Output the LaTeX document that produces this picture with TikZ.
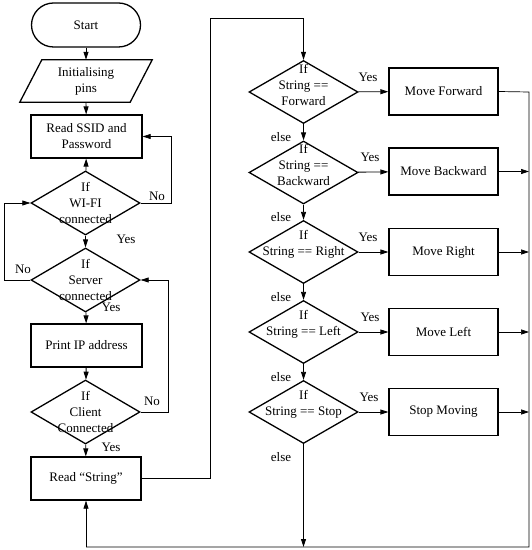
\documentclass[tikz,border=0pt]{standalone}
\usepackage{fontspec}
\setmainfont{Liberation Serif}
\usetikzlibrary{shapes.geometric,arrows.meta}
\begin{document}
\begin{tikzpicture}[x=1bp,y=-1bp,
  font=\fontsize{13bp}{16bp}\selectfont,
  shp/.style={draw=black,line width=1.3pt},
  boxn/.style={shp,rectangle,minimum width=111bp,minimum height=43bp,inner sep=0pt,align=center},
  dia/.style={shp,diamond,minimum width=109bp,minimum height=64bp,inner sep=0pt},
  txt/.style={align=center,inner sep=0pt},
  lbl/.style={inner sep=0pt},
  con/.style={line width=0.9pt},
  arr/.style={con,-{Triangle[length=8bp,width=5bp]}},
  thin/.style={line width=0.7pt}]
\useasboundingbox (0,0) rectangle (532,550);
% left column
\node[shp,rectangle,rounded corners=22bp,minimum width=109bp,minimum height=44bp] (start) at (86,25) {Start};
\node[txt,minimum width=110bp,minimum height=42bp] (init) at (86,81) {Initialising\\pins};
\draw[shp,line join=miter] ([xshift=11bp]init.north west) -- ([xshift=11bp]init.north east) -- ([xshift=-11bp]init.south east) -- ([xshift=-11bp]init.south west) -- cycle;
\node[boxn] (ssid) at (86.5,136.5) {Read SSID and\\Password};
\node[dia] (wifi) at (85.5,203) {};
\node[txt] (wifit) at (85.5,203) {If\\WI-FI\\connected};
\node[dia] (server) at (85.5,280) {};
\node[txt] (servert) at (85.5,280) {If\\Server\\connected};
\node[boxn] (ip) at (86.5,345.5) {Print IP address};
\node[dia] (client) at (85.5,412) {};
\node[txt] (clientt) at (85.5,412) {If\\Client\\Connected};
\node[boxn,minimum width=110bp] (read) at (86,478.5) {Read ``String''};
% left connectors
\draw[arr] (start) -- (init.north);
\draw[arr] (init.south) -- (ssid);
\draw[arr] (wifi) -- (ssid);
\draw[arr] (wifi) -- (server);
\draw[arr] (server) -- (ip);
\draw[arr] (ip) -- (client);
\draw[arr] (client) -- (read);
\coordinate (wr) at (171,203);
\draw[arr,thin] (wifi.east) -| (wr) |- (ssid.east);
\coordinate (sl) at (4,280);
\draw[arr,thin] (server.west) -| (sl) |- (wifi.west);
\coordinate (cr) at (168,412);
\draw[arr,thin] (client.east) -| (cr) |- (server.east);
\node[lbl] (no1) at (157,196) {No};
\node[lbl] (yes1) at (126,239) {Yes};
\node[lbl] (no2) at (23,269) {No};
\node[lbl] (yes2) at (111,307) {Yes};
\node[lbl] (no3) at (152,401) {No};
\node[lbl] (yes3) at (111,447) {Yes};
% right column
\node[dia,minimum height=63bp] (d1) at (303.5,92) {};
\node[txt] (d1t) at (303.5,84.5) {If\\String ==\\Forward};
\node[dia,minimum height=63bp] (d2) at (303.5,172.5) {};
\node[txt] (d2t) at (303.5,165) {If\\String ==\\Backward};
\node[dia,minimum height=63bp] (d3) at (303.5,252) {};
\node[txt] (d3t) at (303.5,244) {If\\String == Right};
\node[dia,minimum height=63bp] (d4) at (303.5,332) {};
\node[txt] (d4t) at (303.5,324) {If\\String == Left};
\node[dia,minimum height=63bp] (d5) at (303.5,412) {};
\node[txt] (d5t) at (303.5,404) {If\\String == Stop};
\node[boxn,minimum width=109bp,minimum height=47bp] (b1) at (443.5,91.5) {Move Forward};
\node[boxn,minimum width=109bp,minimum height=47bp] (b2) at (443.5,171.5) {Move Backward};
\node[boxn,minimum width=109bp,minimum height=47bp] (b3) at (443.5,252) {Move Right};
\node[boxn,minimum width=109bp,minimum height=47bp] (b4) at (443.5,332) {Move Left};
\node[boxn,minimum width=109bp,minimum height=47bp] (b5) at (443.5,412) {Stop Moving};
\draw[arr] (d1) -- (b1);
\draw[arr] (d2) -- (b2);
\draw[arr] (d3) -- (b3);
\draw[arr] (d4) -- (b4);
\draw[arr] (d5) -- (b5);
\draw[arr] (d1) -- (d2);
\draw[arr] (d2) -- (d3);
\draw[arr] (d3) -- (d4);
\draw[arr] (d4) -- (d5);
\coordinate (rtop) at (529,92);
\coordinate (rbot) at (529,547);
\coordinate (dbot) at (303.5,547);
\coordinate (lbot) at (86,547);
\coordinate (up1) at (210,478.5);
\coordinate (up2) at (210,18);
\coordinate (up3) at (303.5,18);
\draw[thin] (b1.east) -- (rtop) -- (rbot) -- (lbot);
\draw[arr,thin] (lbot) -- (read.south);
\draw[arr] (d5.south) -- (dbot);
\draw[arr,thin] (read.east) -- (up1) -- (up2) -- (up3) -- (d1.north);
\draw[arr,thin] (b2.east) -- (b2.east -| rtop);
\draw[arr,thin] (b3.east) -- (b3.east -| rtop);
\draw[arr,thin] (b4.east) -- (b4.east -| rtop);
\draw[arr,thin] (b5.east) -- (b5.east -| rtop);
\node[lbl] (y1) at (368,77) {Yes};
\node[lbl] (y2) at (370,157) {Yes};
\node[lbl] (y3) at (368,237) {Yes};
\node[lbl] (y4) at (370,317) {Yes};
\node[lbl] (y5) at (369,397) {Yes};
\node[lbl] (e2) at (281,137) {else};
\node[lbl] (e3) at (281,217) {else};
\node[lbl] (e4) at (281,297) {else};
\node[lbl] (e5) at (281,377) {else};
\node[lbl] (e6) at (281,457) {else};
\end{tikzpicture}
\end{document}
